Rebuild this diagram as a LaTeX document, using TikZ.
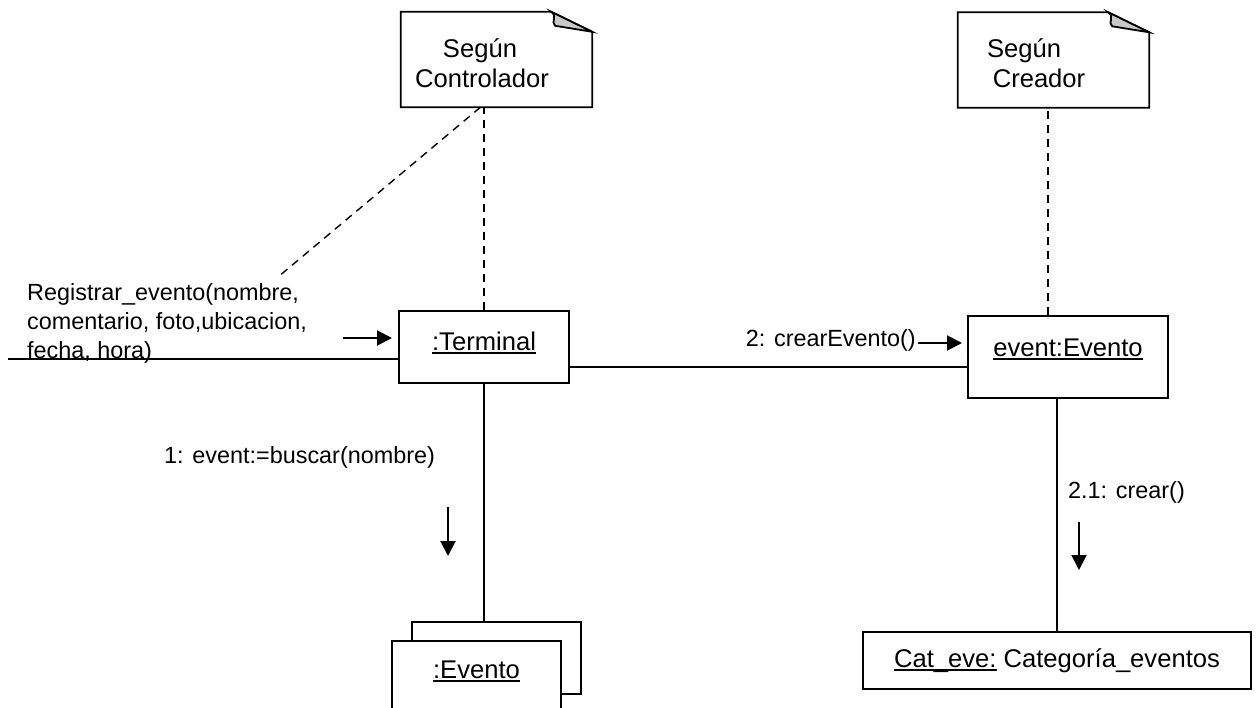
\documentclass[tikz,border=0pt]{standalone}
\usepackage{fontspec}
\setmainfont{Liberation Sans}
\usetikzlibrary{arrows.meta}
\definecolor{foldgray}{RGB}{200,200,200}
% underline drawn as a rule under the text
\newcommand\ulname[1]{\setbox0\hbox{#1}\rlap{\rule[-3.5pt]{\wd0}{1.6pt}}\box0\relax}
\begin{document}
\begin{tikzpicture}[x=1pt,y=-1pt,
  bigfont/.style={font=\fontsize{25.6}{30}\selectfont},
  smallfont/.style={font=\fontsize{23.4}{29}\selectfont},
  objbox/.style={draw, line width=1.8pt, fill=white, inner sep=0pt, bigfont,
    text height=19pt, text depth=12pt},
  notebox/.style={inner sep=0pt, minimum width=191pt, minimum height=95pt},
  noteline/.style={line width=1.8pt, line join=miter},
  notetext/.style={bigfont, inner sep=0pt, anchor=base},
  lbl/.style={smallfont, inner sep=0pt, align=left},
  link/.style={line width=1.6pt},
  notelink/.style={line width=1.4pt, dash pattern=on 8pt off 6pt},
  msg/.style={line width=2pt, -{Triangle[length=15pt,width=15pt]}}
]
\useasboundingbox (0,0) rectangle (1260,707);

% notes with a folded corner
\node[notebox] (n1) at (496.5,59.5) {};
\node[notebox] (n2) at (1053.5,60) {};
\foreach \n in {n1,n2}{
  \draw[noteline, fill=white] (\n.north west) -- ([xshift=-41pt]\n.north east)
    -- ([yshift=-20pt]\n.north east) -- (\n.south east) -- (\n.south west) -- cycle;
  \draw[noteline, fill=foldgray] ([xshift=-41pt]\n.north east)
    .. controls ([xshift=-34pt,yshift=-5pt]\n.north east) and ([xshift=-42pt,yshift=-10pt]\n.north east)
    .. ([xshift=-37pt,yshift=-14pt]\n.north east) -- ([yshift=-20pt]\n.north east) -- cycle;
}
\node[notetext] (n1a) at (480,57) {Según};
\node[notetext] (n1b) at (482,87) {Controlador};
\node[notetext] (n2a) at (1024,57) {Según};
\node[notetext] (n2b) at (1039,87) {Creador};

% objects
\node[objbox, minimum width=170pt, minimum height=72pt] (term) at (484,347) {\ulname{:Terminal}};
\node[objbox, minimum width=200pt, minimum height=82pt, text depth=20pt] (event) at (1068,357) {\ulname{event:Evento}};
\node[objbox, minimum width=169pt, minimum height=72pt] (eback) at (496.5,658) {};
\node[objbox, minimum width=169pt, minimum height=72pt, text depth=17pt] (efront) at (476.5,677) {\ulname{:Evento}};
\node[objbox, minimum width=388pt, minimum height=57pt, text height=19pt, text depth=5pt] (cat) at (1057,660.5)
  {\ulname{Cat\_eve:} Categoría\_eventos};

% links
\coordinate (actor) at (8,359);
\draw[link] (actor) -- (actor -| term.west);
\draw[link] ([yshift=-20pt]term.east) -- ([yshift=-20pt]term.east -| event.west);
\draw[link] (term.south) -- (term.south |- eback.north);
\draw[link] (cat.north) -- (cat.north |- event.south);

% note anchors
\coordinate (n1end) at (278,277);
\draw[notelink] (term.north) -- (term.north |- n1.south);
\draw[notelink] ([xshift=-16pt]n1.south) -- (n1end);
\draw[notelink] ([xshift=-20pt]event.north) -- ([xshift=-20pt]event.north |- n2.south);

% messages
\node[lbl, anchor=west] (m0) at (27,323) {Registrar\_evento(nombre,\\comentario, foto,ubicacion,\\fecha, hora)};
\coordinate (a0s) at (343,338);
\coordinate (a0e) at (392,338);
\draw[msg] (a0s) -- (a0e);
\node[lbl, anchor=east] (m2) at (916,340) {2: crearEvento()};
\coordinate (a2s) at (918,343);
\coordinate (a2e) at (962,343);
\draw[msg] (a2s) -- (a2e);
\node[lbl, anchor=west] (m1) at (164,457) {1: event:=buscar(nombre)};
\coordinate (a1s) at (448,507);
\coordinate (a1e) at (448,556);
\draw[msg] (a1s) -- (a1e);
\node[lbl, anchor=west] (m21) at (1068,492) {2.1: crear()};
\coordinate (a21s) at (1079,522);
\coordinate (a21e) at (1079,570);
\draw[msg] (a21s) -- (a21e);
\end{tikzpicture}
\end{document}
